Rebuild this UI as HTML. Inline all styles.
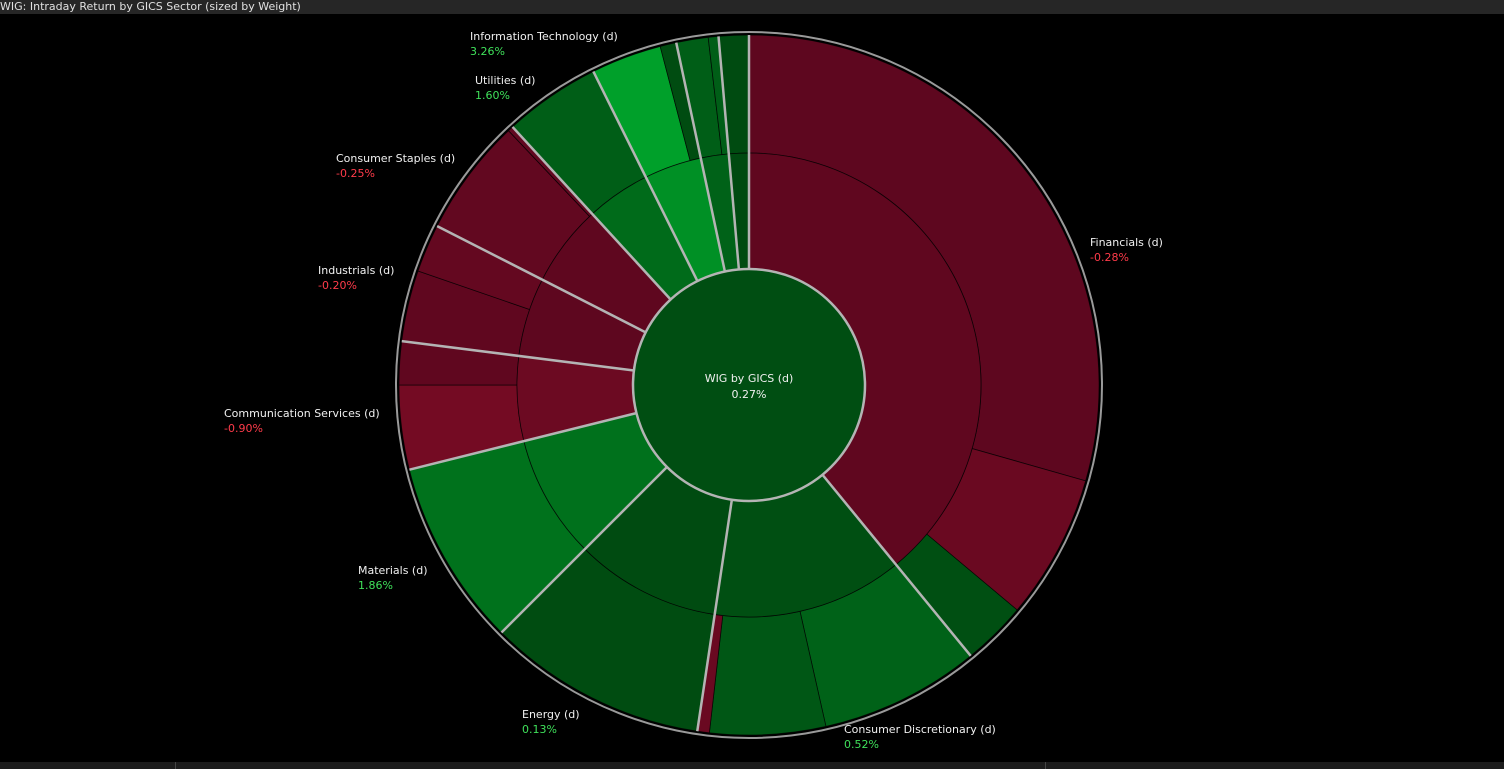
<!DOCTYPE html>
<html><head><meta charset="utf-8"><style>
html,body{margin:0;padding:0;background:#000;width:1504px;height:769px;overflow:hidden;font-family:"DejaVu Sans","Liberation Sans",sans-serif}
#title{position:absolute;left:0;top:0;width:1504px;height:14px;background:#262626;color:#e0e0e0;font-size:11px;line-height:14px;white-space:nowrap}
#bottom{position:absolute;left:0;top:762px;width:1504px;height:7px;background:#1c1c1c}
.sep{position:absolute;top:762px;width:1px;height:7px;background:#444}
svg{position:absolute;left:0;top:0;font-family:"DejaVu Sans","Liberation Sans",sans-serif}
</style></head><body>
<div id="title">WIG: Intraday Return by GICS Sector (sized by Weight)</div>
<svg id="chart" width="1504" height="769"></svg>
<div id="bottom"></div>
<div class="sep" style="left:175px"></div>
<div class="sep" style="left:1045px"></div>
<script>
// ---- data ----
const sectorNames = ["Financials","Consumer Discretionary","Energy","Materials","Communication Services","Industrials","Consumer Staples","Utilities","Information Technology","Health Care","Real Estate"];
const sectorWeights = [140.7,47.8,36.5,31,21.2,19.8,20.5,16.1,14.4,7,5];
const sectorReturns = [-0.28,0.30,0.13,1.86,-0.90,-0.20,-0.25,1.60,3.26,1.20,0.10];
const outerSector = [0,0,0,1,1,1,2,3,4,4,5,5,6,6,7,8,8,9,9,10];
const outerWeights = [105.9,24.1,10.7,26.6,19.2,2.0,36.5,31,14,7.2,11.8,8,19.6,0.9,16.1,11.7,2.7,5.3,1.7,5];
const outerReturns = [-0.2,-0.8,0.3,1.2,0.7,-0.8,0.2,1.9,-1.3,-0.3,-0.3,-0.5,-0.4,-0.4,1.0,4.0,0.2,1.0,1.0,0.15];
const labelNames = ["Financials (d)","Consumer Discretionary (d)","Energy (d)","Materials (d)","Communication Services (d)","Industrials (d)","Consumer Staples (d)","Utilities (d)","Information Technology (d)"];
const labelValues = [-0.28,0.52,0.13,1.86,-0.90,-0.20,-0.25,1.60,3.26];
const centerName = "WIG by GICS (d)";
const centerValue = 0.27;
// ---- layout ----
const labelPos = [[1090,242],[844,729],[522,714],[358,570],[224,413],[318,270],[336,158],[475,80],[470,36]];
const cx=749, cy=385, r0=116, r1=232, r2=350;
const svg=document.getElementById('chart');
const NS='http://www.w3.org/2000/svg';
function color(r){
  if(r>=0){const t=Math.min(r/4,1);return `rgb(0,${Math.round(72+88*t)},${Math.round(16+26*t)})`;}
  const t=Math.min(-r/1.5,1);return `rgb(${Math.round(90+30*t)},${Math.round(6+6*t)},${Math.round(30+6*t)})`;
}
const total=sectorWeights.reduce((a,b)=>a+b,0);
function ang(v){return v/total*2*Math.PI;}
function pt(a,r){return [cx+r*Math.sin(a),cy-r*Math.cos(a)];}
function arc(a0,a1,ri,ro){
  const p0=pt(a0,ro),p1=pt(a1,ro),p2=pt(a1,ri),p3=pt(a0,ri);const lg=(a1-a0)>Math.PI?1:0;
  return `M${p0[0]},${p0[1]}A${ro},${ro} 0 ${lg} 1 ${p1[0]},${p1[1]}L${p2[0]},${p2[1]}A${ri},${ri} 0 ${lg} 0 ${p3[0]},${p3[1]}Z`;
}
function mk(tag,attrs){const e=document.createElementNS(NS,tag);for(const k in attrs)e.setAttribute(k,attrs[k]);svg.appendChild(e);return e;}
let acc=0;
outerWeights.forEach((w,i)=>{
  const e=mk('path',{d:arc(ang(acc),ang(acc+w),r1,r2),fill:color(outerReturns[i]),stroke:'rgba(0,0,0,0.75)','stroke-width':0.8});
  
  
  acc+=w;
});
acc=0;
sectorWeights.forEach((w,i)=>{
  const e=mk('path',{d:arc(ang(acc),ang(acc+w),r0,r1),fill:color(sectorReturns[i]),stroke:'rgba(0,0,0,0.75)','stroke-width':0.8});
  
  
  acc+=w;
});
acc=0;
sectorWeights.forEach((w,i)=>{
  const a=ang(acc);const p=pt(a,r0),q=pt(a,r2);
  const e=mk('line',{x1:p[0],y1:p[1],x2:q[0],y2:q[1],stroke:'#b4b4b4','stroke-width':2.5});
  
  
  acc+=w;
});
const ring=mk('circle',{cx:cx,cy:cy,r:r2+3,fill:'none',stroke:'#9a9a9a','stroke-width':2});


const c=mk('circle',{cx:cx,cy:cy,r:r0,fill:color(centerValue),stroke:'#b4b4b4','stroke-width':2.5});


function fmt(v){return v.toFixed(2)+'%';}
const t1=mk('text',{x:cx,y:cy-3,'text-anchor':'middle',fill:'#f0f0f0','font-size':11});
t1.textContent=centerName;


const t2=mk('text',{x:cx,y:cy+13,'text-anchor':'middle',fill:'#f0f0f0','font-size':11});
t2.textContent=fmt(centerValue);


labelNames.forEach((n,i)=>{
  const [x,y]=labelPos[i];
  const a=mk('text',{x:x,y:y+4,fill:'#f0f0f0','font-size':11});
  a.textContent=n;
  
  
  const b=mk('text',{x:x,y:y+19,fill:labelValues[i]<0?'#ff3b4a':'#3fe05a','font-size':11});
  b.textContent=fmt(labelValues[i]);
  
  
});
</script>
</body></html>
